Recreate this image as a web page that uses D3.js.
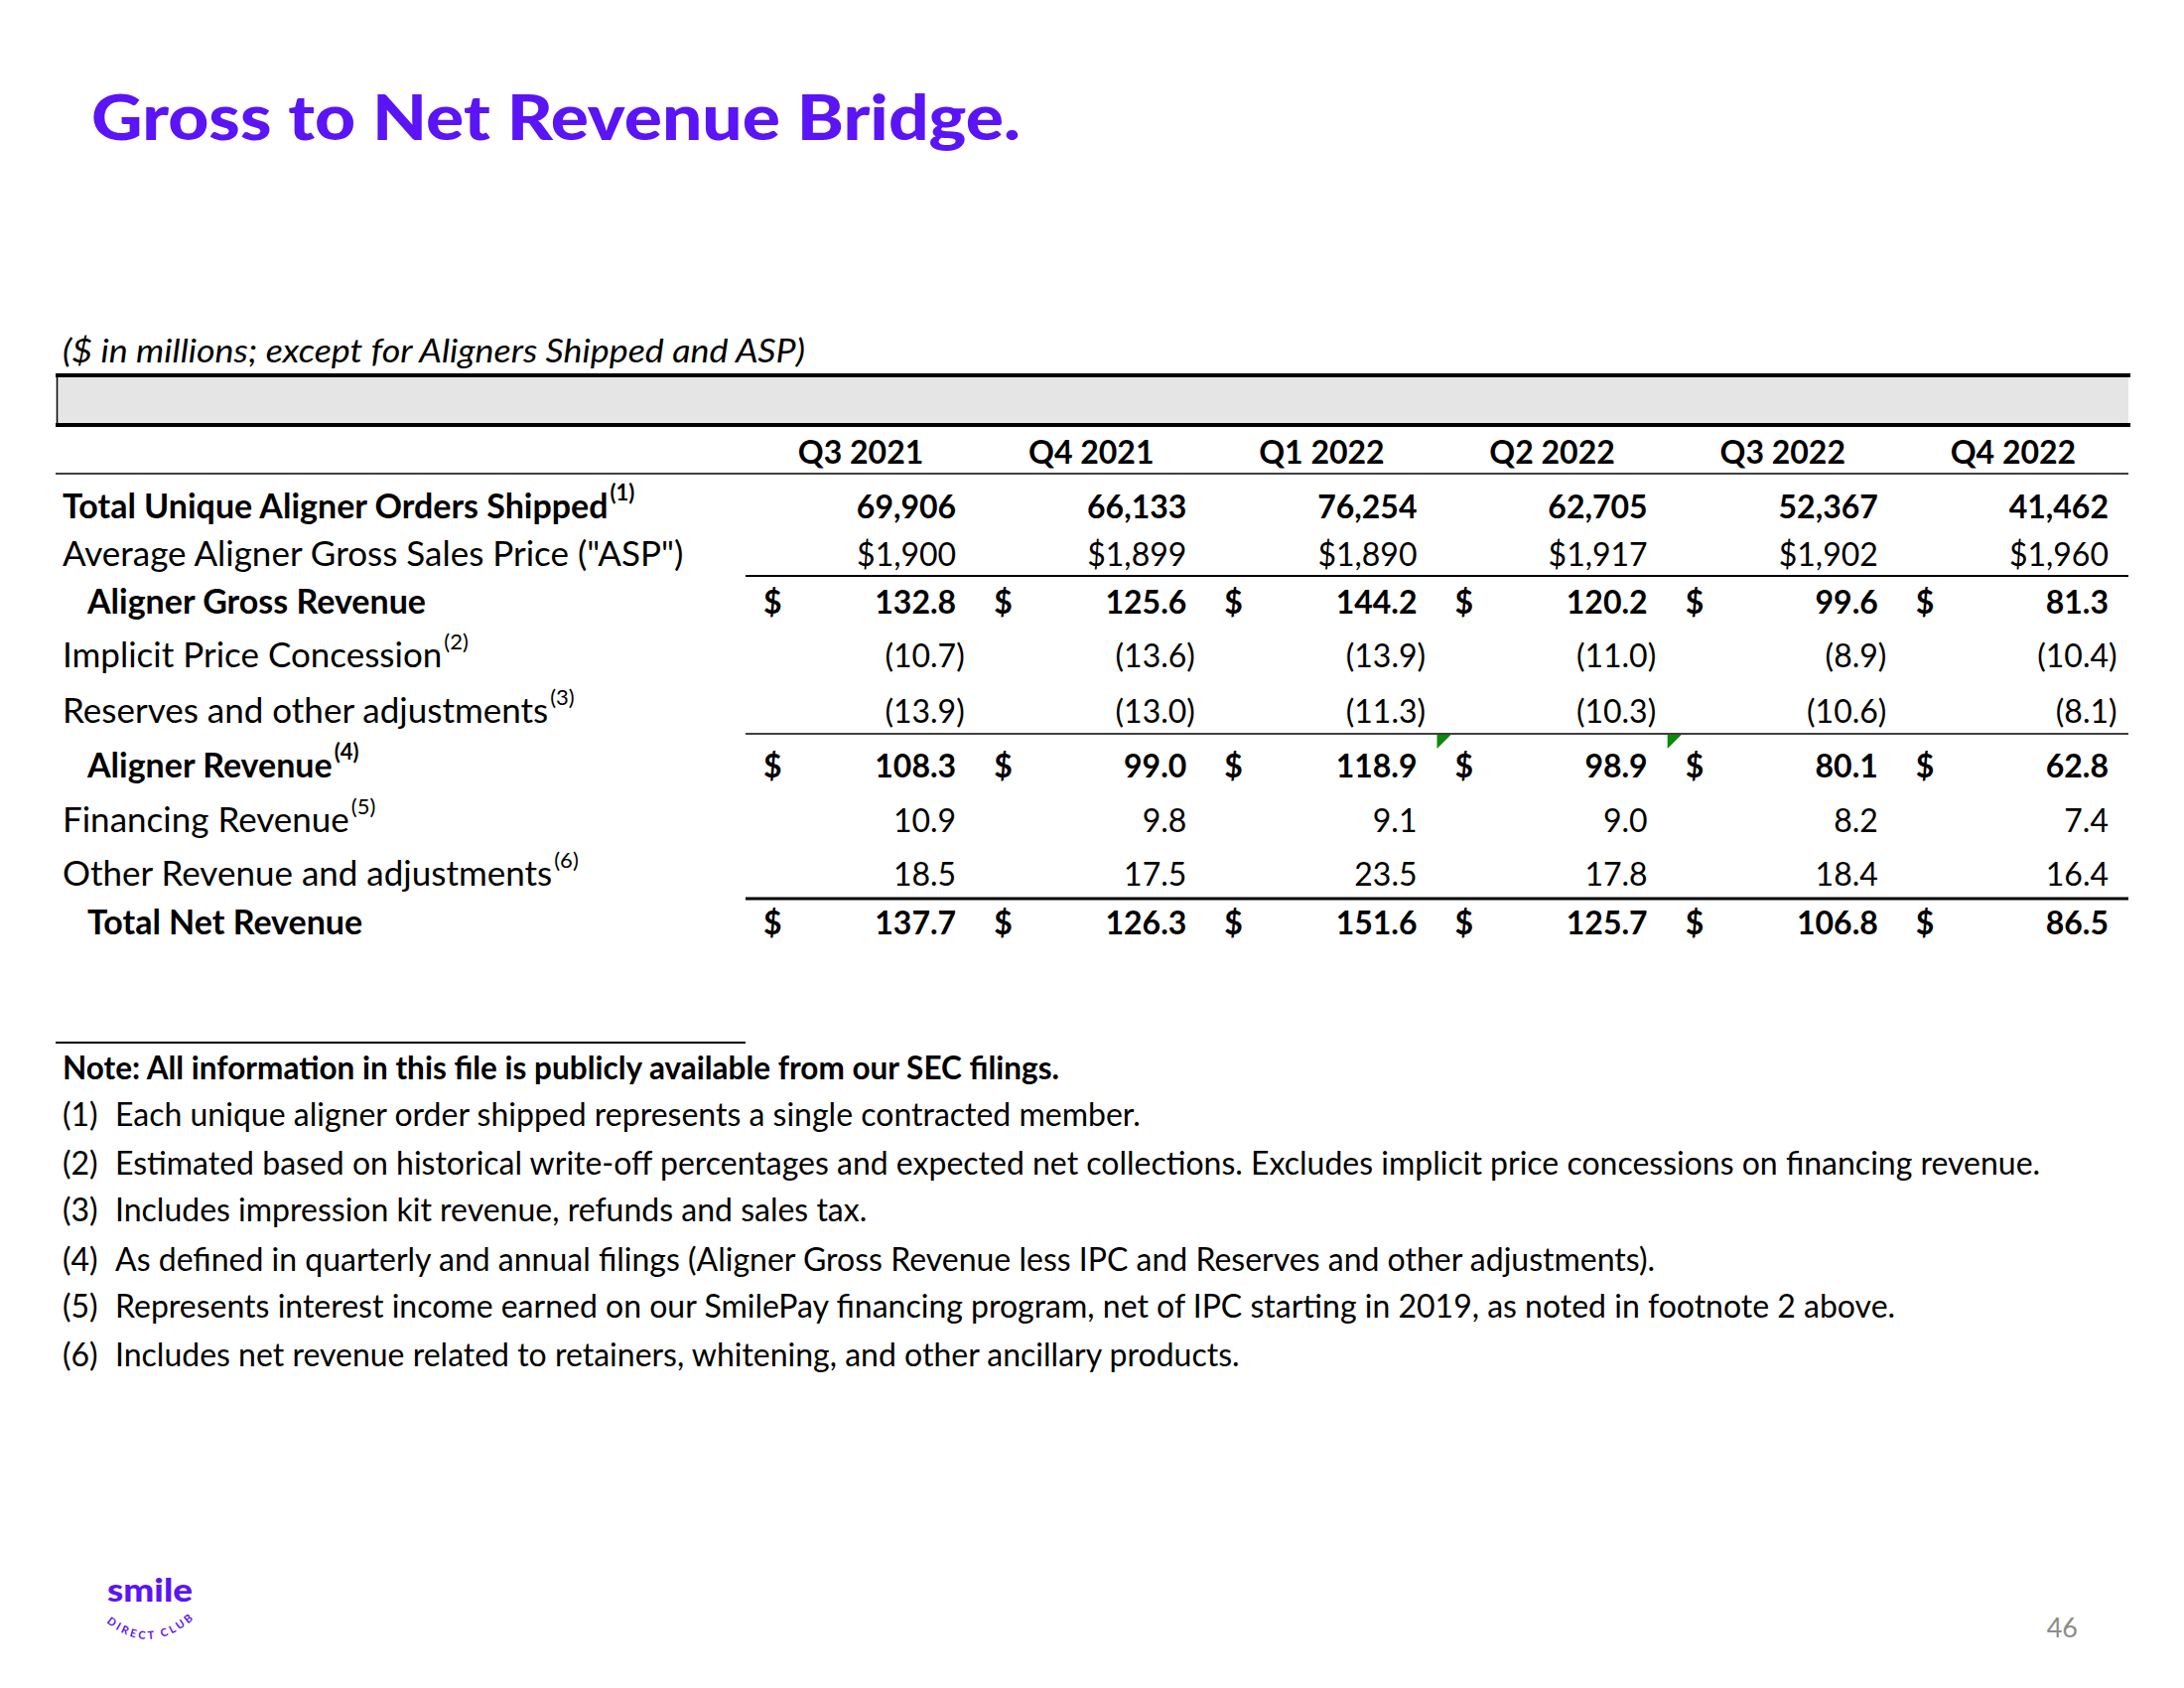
<!DOCTYPE html>
<html>
<head>
<meta charset="utf-8">
<script src="https://cdn.jsdelivr.net/npm/d3@7"></script>
<style>
  html, body { margin: 0; padding: 0; background: #ffffff; }
  svg { display: block; }
</style>
</head>
<body>
<svg id="chart" width="2200" height="1700"></svg>
<script>
// ---------------- DATA ----------------
const quarters = ["Q3 2021", "Q4 2021", "Q1 2022", "Q2 2022", "Q3 2022", "Q4 2022"];
const ordersShipped = [69906, 66133, 76254, 62705, 52367, 41462];
const averageASP = [1900, 1899, 1890, 1917, 1902, 1960];
const alignerGrossRevenue = [132.8, 125.6, 144.2, 120.2, 99.6, 81.3];
const implicitPriceConcession = [-10.7, -13.6, -13.9, -11.0, -8.9, -10.4];
const reservesAdjustments = [-13.9, -13.0, -11.3, -10.3, -10.6, -8.1];
const alignerRevenue = [108.3, 99.0, 118.9, 98.9, 80.1, 62.8];
const financingRevenue = [10.9, 9.8, 9.1, 9.0, 8.2, 7.4];
const otherRevenue = [18.5, 17.5, 23.5, 17.8, 18.4, 16.4];
const totalNetRevenue = [137.7, 126.3, 151.6, 125.7, 106.8, 86.5];

const rowLabels = [
  "Total Unique Aligner Orders Shipped",
  "Average Aligner Gross Sales Price (\"ASP\")",
  "Aligner Gross Revenue",
  "Implicit Price Concession",
  "Reserves and other adjustments",
  "Aligner Revenue",
  "Financing Revenue",
  "Other Revenue and adjustments",
  "Total Net Revenue"
];
const rowSups = ["(1)", "", "", "(2)", "(3)", "(4)", "(5)", "(6)", ""];

const titleText = "Gross to Net Revenue Bridge.";
const subtitleText = "($ in millions; except for Aligners Shipped and ASP)";
const noteText = "Note: All information in this file is publicly available from our SEC filings.";
const footnoteNums = ["(1)", "(2)", "(3)", "(4)", "(5)", "(6)"];
const footnotes = [
  "Each unique aligner order shipped represents a single contracted member.",
  "Estimated based on historical write-off percentages and expected net collections. Excludes implicit price concessions on financing revenue.",
  "Includes impression kit revenue, refunds and sales tax.",
  "As defined in quarterly and annual filings (Aligner Gross Revenue less IPC and Reserves and other adjustments).",
  "Represents interest income earned on our SmilePay financing program, net of IPC starting in 2019, as noted in footnote 2 above.",
  "Includes net revenue related to retainers, whitening, and other ancillary products."
];
const pageNumber = "46";

// ---------------- LAYOUT ----------------
const PURPLE = "#5a14f5";
const FONT = "Lato, 'Open Sans', sans-serif";
const FS_NUM = 32;          // numbers & column headers
const FS_LABEL_BOLD = 34;   // bold row labels
const FS_LABEL = 35;        // regular row labels
const FS_NOTE = 32;         // footnotes

const svg = d3.select("#chart");

const rows = [
  { values: ordersShipped, fmt: "int", bold: true, indent: false, dollar: false },
  { values: averageASP, fmt: "asp", bold: false, indent: false, dollar: false },
  { values: alignerGrossRevenue, fmt: "m", bold: true, indent: true, dollar: true },
  { values: implicitPriceConcession, fmt: "m", bold: false, indent: false, dollar: false },
  { values: reservesAdjustments, fmt: "m", bold: false, indent: false, dollar: false },
  { values: alignerRevenue, fmt: "m", bold: true, indent: true, dollar: true },
  { values: financingRevenue, fmt: "m", bold: false, indent: false, dollar: false },
  { values: otherRevenue, fmt: "m", bold: false, indent: false, dollar: false },
  { values: totalNetRevenue, fmt: "m", bold: true, indent: true, dollar: true }
].map((r, i) => Object.assign(r, { label: rowLabels[i], sup: rowSups[i] }));

const baselines = [522, 570, 618, 672, 728, 783, 838, 892, 941];

const x = d3.scaleBand().domain(quarters).range([751, 2144]).padding(0);
const colRight = q => x(q) + x.bandwidth() - 20;

const fmtInt = d3.format(",");
const fmtM = d3.format(".1f");
function fmtVal(v, kind) {
  if (kind === "int") return fmtInt(v);
  if (kind === "asp") return "$" + fmtInt(v);
  if (v < 0) return "(" + fmtM(-v);
  return fmtM(v);
}

// Title
svg.append("text")
  .attr("x", 92).attr("y", 141)
  .attr("font-family", "Lato, sans-serif")
  .attr("font-weight", 900)
  .attr("font-size", 62)
  .attr("fill", PURPLE)
  .attr("textLength", 936)
  .attr("lengthAdjust", "spacingAndGlyphs")
  .text(titleText);

// Subtitle
svg.append("text")
  .attr("x", 63).attr("y", 365)
  .attr("font-family", FONT)
  .attr("font-style", "italic")
  .attr("font-size", 33.5)
  .attr("fill", "#000")
  .attr("textLength", 748)
  .attr("lengthAdjust", "spacingAndGlyphs")
  .text(subtitleText);

// Grey header band
svg.append("rect")
  .attr("x", 57).attr("y", 378)
  .attr("width", 2144 - 57).attr("height", 50)
  .attr("fill", "#e5e5e5");
svg.append("line").attr("x1", 56).attr("x2", 2146).attr("y1", 378).attr("y2", 378)
  .attr("stroke", "#000").attr("stroke-width", 4);
svg.append("line").attr("x1", 56).attr("x2", 2146).attr("y1", 428).attr("y2", 428)
  .attr("stroke", "#000").attr("stroke-width", 4);
svg.append("line").attr("x1", 57.5).attr("x2", 57.5).attr("y1", 378).attr("y2", 428)
  .attr("stroke", "#000").attr("stroke-width", 1.5);

// Column headers
svg.append("g").selectAll("text")
  .data(quarters).join("text")
  .attr("x", d => x(d) + x.bandwidth() / 2)
  .attr("y", 467)
  .attr("text-anchor", "middle")
  .attr("font-family", FONT)
  .attr("font-weight", 700)
  .attr("font-size", FS_NUM)
  .text(d => d);

// Header underline
svg.append("line").attr("x1", 56).attr("x2", 2144).attr("y1", 477).attr("y2", 477)
  .attr("stroke", "#000").attr("stroke-width", 1.5);

// Sub-total rules
const rules = [
  { y: 580, w: 2 },
  { y: 739, w: 1.5 },
  { y: 905, w: 3 }
];
svg.append("g").selectAll("line").data(rules).join("line")
  .attr("x1", x.range()[0]).attr("x2", x.range()[1])
  .attr("y1", d => d.y).attr("y2", d => d.y)
  .attr("stroke", "#000").attr("stroke-width", d => d.w);

// Row labels
const labelG = svg.append("g");
rows.forEach((r, i) => {
  const t = labelG.append("text")
    .attr("x", r.indent ? 88 : 63)
    .attr("y", baselines[i])
    .attr("font-family", FONT)
    .attr("font-size", r.bold ? FS_LABEL_BOLD : FS_LABEL)
    .attr("font-weight", r.bold ? 700 : 400)
    .attr("fill", "#000");
  t.append("tspan").text(r.label);
  if (r.sup) {
    t.append("tspan")
      .attr("dy", -18)
      .attr("dx", 2)
      .attr("font-size", 22)
      .text(r.sup);
  }
});

// Values
const valG = svg.append("g");
rows.forEach((r, i) => {
  const g = valG.append("g");
  const cells = quarters.map((q, j) => ({ q, v: r.values[j] }));
  g.selectAll("text.v").data(cells).join("text")
    .attr("class", "v")
    .attr("x", d => colRight(d.q))
    .attr("y", baselines[i])
    .attr("text-anchor", "end")
    .attr("font-family", FONT)
    .attr("font-size", FS_NUM)
    .attr("font-weight", r.bold ? 700 : 400)
    .text(d => fmtVal(d.v, r.fmt));
  g.selectAll("text.p").data(cells.filter(d => r.fmt === "m" && d.v < 0)).join("text")
    .attr("class", "p")
    .attr("x", d => colRight(d.q))
    .attr("y", baselines[i])
    .attr("font-family", FONT)
    .attr("font-size", FS_NUM)
    .attr("font-weight", r.bold ? 700 : 400)
    .text(")");
  if (r.dollar) {
    g.selectAll("text.d").data(cells).join("text")
      .attr("class", "d")
      .attr("x", d => x(d.q) + 18)
      .attr("y", baselines[i])
      .attr("font-family", FONT)
      .attr("font-size", FS_NUM)
      .attr("font-weight", 700)
      .text("$");
  }
});

// Green cell indicators (Aligner Revenue row, Q2 2022 and Q3 2022 cells)
const flagged = ["Q2 2022", "Q3 2022"];
svg.append("g").selectAll("path").data(flagged).join("path")
  .attr("d", d => {
    const x0 = x(d), y0 = 740;
    return `M${x0},${y0} L${x0 + 14},${y0} L${x0},${y0 + 14} Z`;
  })
  .attr("fill", "#0a8a0a");

// Footnote separator
svg.append("line").attr("x1", 56).attr("x2", 751).attr("y1", 1050).attr("y2", 1050)
  .attr("stroke", "#000").attr("stroke-width", 2);

svg.append("text")
  .attr("x", 63).attr("y", 1087)
  .attr("font-family", FONT).attr("font-size", 31.5).attr("font-weight", 700)
  .text(noteText);

const fnBase = [1134, 1183, 1230, 1280, 1327, 1376];
const fnG = svg.append("g");
fnG.selectAll("text.n").data(footnoteNums).join("text")
  .attr("class", "n")
  .attr("x", 63).attr("y", (d, i) => fnBase[i])
  .attr("font-family", FONT).attr("font-size", FS_NOTE)
  .text(d => d);
fnG.selectAll("text.f").data(footnotes).join("text")
  .attr("class", "f")
  .attr("x", 116).attr("y", (d, i) => fnBase[i])
  .attr("font-family", FONT).attr("font-size", FS_NOTE)
  .text(d => d);

// Logo
svg.append("text")
  .attr("x", 108).attr("y", 1613)
  .attr("font-family", "Lato, sans-serif").attr("font-weight", 900)
  .attr("font-size", 33)
  .attr("fill", PURPLE)
  .attr("textLength", 86).attr("lengthAdjust", "spacingAndGlyphs")
  .text("smile");
svg.append("defs").append("path")
  .attr("id", "logoArc")
  .attr("d", "M 105 1632 Q 151 1672 199 1627");
svg.append("text")
  .attr("font-family", "Lato, sans-serif").attr("font-weight", 700)
  .attr("font-size", 11).attr("letter-spacing", 2.8)
  .attr("fill", PURPLE)
  .append("textPath")
  .attr("href", "#logoArc")
  .attr("startOffset", "50%")
  .attr("text-anchor", "middle")
  .text("DIRECT CLUB");

// Page number
svg.append("text")
  .attr("x", 2093).attr("y", 1649)
  .attr("text-anchor", "end")
  .attr("font-family", FONT).attr("font-size", 27)
  .attr("fill", "#8c8c8c")
  .text(pageNumber);
</script>
</body>
</html>
